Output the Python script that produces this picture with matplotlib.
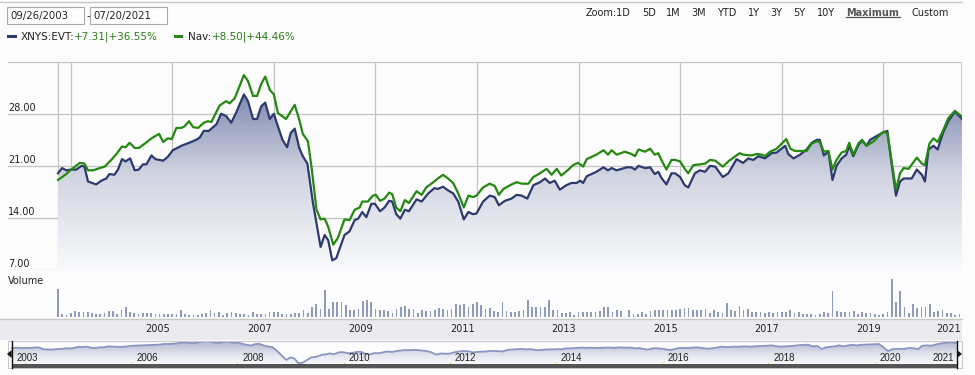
import numpy as np
import matplotlib
matplotlib.use('Agg')
import matplotlib.pyplot as plt
from matplotlib.colors import LinearSegmentedColormap
from matplotlib.patches import Rectangle, Polygon
from matplotlib.lines import Line2D
import matplotlib.transforms as mtransforms

# ---------------- data ----------------
evt_t = [2003.75, 2003.83, 2003.91, 2004.01, 2004.11, 2004.21, 2004.27, 2004.34, 2004.50, 2004.60,
         2004.70, 2004.76, 2004.86, 2004.93, 2005.01, 2005.08, 2005.17, 2005.26, 2005.34, 2005.42,
         2005.49, 2005.59, 2005.67, 2005.82, 2005.91, 2006.01, 2006.18, 2006.33, 2006.47, 2006.54,
         2006.62, 2006.72, 2006.87, 2006.96, 2007.06, 2007.16, 2007.26, 2007.41, 2007.49, 2007.59,
         2007.67, 2007.75, 2007.83, 2007.92, 2008.00, 2008.08, 2008.17, 2008.26, 2008.33, 2008.41,
         2008.50, 2008.57, 2008.66, 2008.77, 2008.92, 2009.00, 2009.07, 2009.15, 2009.23, 2009.39,
         2009.49, 2009.59, 2009.66, 2009.74, 2009.82, 2009.92, 2009.99, 2010.09, 2010.18, 2010.27,
         2010.33, 2010.41, 2010.49, 2010.58, 2010.66, 2010.81, 2010.91, 2011.04, 2011.16, 2011.23,
         2011.33, 2011.43, 2011.53, 2011.63, 2011.74, 2011.83, 2011.92, 2011.99, 2012.12, 2012.25,
         2012.35, 2012.43, 2012.55, 2012.68, 2012.78, 2012.88, 2012.99, 2013.11, 2013.24, 2013.34,
         2013.43, 2013.53, 2013.63, 2013.76, 2013.86, 2013.96, 2014.03, 2014.09, 2014.16, 2014.35,
         2014.49, 2014.58, 2014.65, 2014.75, 2014.85, 2014.95, 2015.04, 2015.11, 2015.18, 2015.31,
         2015.41, 2015.50, 2015.57, 2015.63, 2015.73, 2015.83, 2015.90, 2016.00, 2016.09, 2016.16,
         2016.29, 2016.39, 2016.49, 2016.59, 2016.69, 2016.84, 2016.95, 2017.11, 2017.24, 2017.34,
         2017.44, 2017.54, 2017.67, 2017.80, 2017.90, 2018.07, 2018.13, 2018.23, 2018.36, 2018.49,
         2018.59, 2018.69, 2018.75, 2018.83, 2018.92, 2019.00, 2019.08, 2019.18, 2019.27, 2019.33,
         2019.41, 2019.51, 2019.58, 2019.67, 2019.74, 2019.87, 2019.97, 2020.08, 2020.15, 2020.25,
         2020.33, 2020.40, 2020.46, 2020.56, 2020.66, 2020.76, 2020.82, 2020.89, 2020.99, 2021.07,
         2021.18, 2021.28, 2021.41, 2021.55]
evt_v = [20.0, 20.7, 20.4, 20.5, 20.5, 21.0, 20.9, 18.9, 18.5, 19.0,
         19.3, 19.9, 19.8, 20.5, 21.9, 21.6, 22.0, 20.4, 20.5, 21.2,
         21.2, 22.4, 21.9, 21.7, 22.2, 23.1, 23.7, 24.1, 24.5, 24.8,
         25.7, 25.7, 26.6, 28.0, 27.7, 26.8, 28.2, 30.6, 29.7, 27.3,
         27.3, 29.0, 29.5, 27.3, 28.0, 26.3, 24.5, 23.5, 25.4, 26.0,
         23.4, 22.3, 21.3, 16.0, 10.1, 11.7, 11.0, 8.3, 8.6, 11.7,
         12.2, 13.7, 13.9, 14.8, 14.1, 15.9, 15.9, 14.9, 15.4, 16.3,
         16.2, 14.5, 13.9, 15.1, 14.9, 16.5, 16.2, 17.3, 18.0, 17.9,
         18.2, 17.7, 17.3, 16.2, 13.8, 14.8, 14.5, 14.6, 16.2, 17.0,
         16.8, 15.7, 16.3, 16.6, 17.1, 17.0, 16.6, 18.4, 18.8, 19.3,
         18.7, 19.0, 17.8, 18.4, 18.7, 18.7, 19.0, 18.7, 19.6, 20.2,
         20.8, 20.4, 20.7, 20.4, 20.6, 20.8, 20.8, 20.5, 21.0, 20.7,
         20.8, 19.9, 20.2, 19.4, 18.5, 20.0, 20.0, 19.5, 18.4, 18.1,
         20.0, 20.4, 20.2, 21.0, 20.9, 19.5, 20.0, 21.9, 21.4, 22.0,
         21.8, 22.3, 22.0, 22.7, 22.8, 23.7, 22.6, 22.0, 22.5, 23.2,
         24.1, 24.5, 24.5, 22.4, 22.9, 19.1, 21.0, 22.0, 22.5, 23.7,
         22.3, 23.8, 24.4, 23.7, 24.5, 25.0, 25.4, 25.7, 22.0, 17.0,
         18.9, 19.3, 19.3, 19.3, 20.5, 19.8, 18.9, 23.2, 23.7, 23.2,
         25.5, 27.0, 28.3, 27.3]

nav_t = [2003.75, 2003.91, 2004.01, 2004.18, 2004.27, 2004.34, 2004.44, 2004.57, 2004.67, 2004.80,
         2004.90, 2005.01, 2005.08, 2005.16, 2005.26, 2005.34, 2005.46, 2005.59, 2005.74, 2005.82,
         2005.91, 2005.99, 2006.08, 2006.18, 2006.24, 2006.33, 2006.41, 2006.51, 2006.62, 2006.70,
         2006.77, 2006.93, 2007.06, 2007.13, 2007.23, 2007.41, 2007.49, 2007.59, 2007.67, 2007.75,
         2007.83, 2007.92, 2008.00, 2008.08, 2008.24, 2008.41, 2008.50, 2008.57, 2008.67, 2008.74,
         2008.84, 2008.92, 2009.00, 2009.07, 2009.17, 2009.26, 2009.39, 2009.49, 2009.59, 2009.69,
         2009.74, 2009.85, 2009.95, 2010.01, 2010.09, 2010.18, 2010.27, 2010.33, 2010.41, 2010.49,
         2010.58, 2010.66, 2010.81, 2010.91, 2011.00, 2011.14, 2011.23, 2011.33, 2011.43, 2011.53,
         2011.63, 2011.74, 2011.83, 2011.92, 2011.99, 2012.12, 2012.25, 2012.35, 2012.43, 2012.52,
         2012.68, 2012.78, 2012.88, 2013.01, 2013.11, 2013.24, 2013.37, 2013.47, 2013.57, 2013.66,
         2013.80, 2013.89, 2013.99, 2014.09, 2014.16, 2014.35, 2014.49, 2014.58, 2014.65, 2014.75,
         2014.91, 2015.04, 2015.11, 2015.18, 2015.31, 2015.41, 2015.50, 2015.57, 2015.63, 2015.73,
         2015.83, 2015.90, 2016.00, 2016.09, 2016.16, 2016.26, 2016.39, 2016.49, 2016.59, 2016.69,
         2016.84, 2016.95, 2017.05, 2017.17, 2017.24, 2017.41, 2017.51, 2017.61, 2017.67, 2017.77,
         2017.90, 2018.09, 2018.17, 2018.26, 2018.36, 2018.49, 2018.59, 2018.69, 2018.75, 2018.83,
         2018.92, 2019.00, 2019.08, 2019.18, 2019.27, 2019.33, 2019.41, 2019.51, 2019.58, 2019.67,
         2019.81, 2019.91, 2020.01, 2020.08, 2020.15, 2020.25, 2020.33, 2020.40, 2020.50, 2020.66,
         2020.76, 2020.82, 2020.91, 2020.99, 2021.07, 2021.18, 2021.28, 2021.41, 2021.55]
nav_v = [19.1, 19.9, 20.5, 21.4, 21.3, 20.4, 20.4, 20.7, 20.9, 21.8,
         22.6, 23.6, 23.5, 24.1, 23.4, 23.4, 24.0, 24.7, 25.3, 24.2,
         24.7, 24.6, 26.1, 26.1, 26.3, 27.0, 26.2, 26.1, 26.8, 27.0,
         26.9, 29.1, 29.7, 29.4, 30.1, 33.2, 32.4, 30.4, 30.4, 32.0,
         33.0, 31.2, 30.6, 28.1, 27.3, 29.2, 27.2, 25.3, 24.3, 20.9,
         15.1, 13.8, 13.9, 12.8, 10.4, 11.3, 13.8, 13.7, 15.1, 15.4,
         16.2, 16.2, 17.0, 17.1, 16.3, 16.6, 17.4, 17.2, 15.4, 14.9,
         16.4, 16.0, 17.6, 17.1, 18.1, 18.8, 19.3, 19.8, 19.3, 18.7,
         17.3, 15.4, 17.0, 16.8, 17.0, 18.1, 18.6, 18.3, 17.1, 17.9,
         18.5, 18.8, 18.6, 18.6, 19.5, 20.0, 20.6, 19.8, 20.6, 19.7,
         20.5, 21.1, 21.4, 20.9, 21.9, 22.5, 23.1, 22.5, 23.1, 22.5,
         22.9, 22.6, 22.3, 23.2, 22.9, 23.3, 22.5, 22.7, 21.8, 20.5,
         21.8, 21.8, 21.6, 20.6, 20.0, 21.1, 21.2, 21.3, 21.8, 21.7,
         20.9, 21.6, 22.1, 22.7, 22.5, 22.4, 22.6, 22.5, 22.3, 22.9,
         23.3, 24.6, 23.3, 23.0, 23.0, 23.0, 24.0, 24.3, 24.2, 22.9,
         23.0, 20.5, 21.8, 22.8, 23.0, 24.1, 22.5, 24.0, 24.5, 23.7,
         24.3, 25.0, 25.6, 25.4, 22.3, 17.8, 20.0, 20.7, 20.6, 22.1,
         21.3, 21.1, 24.0, 24.7, 24.2, 25.8, 27.4, 28.4, 27.6]

# monthly volume (relative units), first bar Oct 2003
volume = [85, 8, 5, 12, 18, 15, 15, 15, 12, 8, 10, 12, 18, 18, 8, 20, 30, 15, 12, 10,
          12, 12, 12, 10, 10, 8, 10, 8, 8, 22, 8, 5, 5, 5, 8, 12, 22, 12, 15, 5,
          12, 15, 12, 8, 10, 5, 15, 10, 8, 10, 15, 15, 15, 8, 10, 10, 12, 12, 20, 12,
          30, 38, 25, 80, 25, 45, 45, 45, 35, 20, 20, 25, 48, 52, 45, 25, 22, 20, 18, 12,
          25, 30, 32, 25, 25, 12, 20, 18, 18, 20, 28, 25, 20, 25, 38, 35, 38, 30, 38, 45,
          35, 25, 28,
          18, 15, 45, 18, 15, 15, 18, 22, 50, 30, 30, 30, 30, 52, 22, 22, 12, 12, 15, 5,
          15, 15, 15, 15, 15, 18, 30, 30, 15, 20, 18, 0, 22, 8, 10, 15, 10, 18, 22, 22,
          22, 20, 22, 20, 25, 28, 28, 20, 20, 22, 25, 12, 20, 15, 12, 42, 22, 18, 32, 20,
          25, 15, 15, 15, 12, 15, 12, 15, 15, 15, 20, 12, 15, 10, 8, 8, 5, 10, 15, 12,
          78, 18, 15, 15, 15, 18, 10, 15, 12, 12, 10, 5, 10, 15, 115, 45, 78, 30, 12, 40,
          28, 30, 30, 38, 15, 18, 20, 12, 12, 5, 8]
vol_t = evt_t[0] + np.arange(len(volume)) / 12.0

y_ticks = [7, 14, 21, 28]
grid_years = [2004, 2006, 2008, 2010, 2012, 2014, 2016, 2018, 2020]
axis_labels = ['2005', '2007', '2009', '2011', '2013', '2015', '2017', '2019']
nav_labels = ['2006', '2008', '2010', '2012', '2014', '2016', '2018', '2020']

start_txt, end_txt = '09/26/2003', '07/20/2021'
evt_name, evt_chg = 'XNYS:EVT:', '+7.31|+36.55%'
nav_name, nav_chg = 'Nav:', '+8.50|+44.46%'
zoom_items = [('Zoom:1D', 586), ('5D', 641.7), ('1M', 665.7), ('3M', 691.7), ('YTD', 716.7),
              ('1Y', 747.7), ('3Y', 770.7), ('5Y', 793), ('10Y', 816.7)]

# ---------------- figure ----------------
W, H = 975, 375
fig = plt.figure(figsize=(W / 100, H / 100), dpi=100)
fig.patch.set_facecolor('#fcfcfc')
plt.rcParams['font.family'] = ['DejaVu Sans']

def fx(x):
    return x / W

def fy(y):
    return 1 - y / H

def add_ax_px(x0, y0, x1, y1, **kw):
    a = fig.add_axes([x0 / W, 1 - y1 / H, (x1 - x0) / W, (y1 - y0) / H], **kw)
    a.set_facecolor('none')
    for s in a.spines.values():
        s.set_visible(False)
    a.set_xticks([])
    a.set_yticks([])
    return a

GRID = '#c4c4c4'
NAVY = '#2c3a6e'
GREEN = '#23890f'
TXT = '#222222'

# ---- main axes ----
ax = add_ax_px(8, 61.7, 962, 270)
px_per_year = 50.75
xl = (evt_t[0] - 50 / px_per_year, evt_t[-1])
ax.set_xlim(*xl)
ax.set_ylim(7, 35)

for v in y_ticks + [35]:
    ax.axhline(v, color=GRID, lw=0.9, zorder=1)
for g in grid_years + [evt_t[0]]:
    ax.axvline(g, color=GRID, lw=0.9, zorder=1)
ax.axvline(xl[1], color=GRID, lw=1.2, zorder=1)

trans_lab = mtransforms.offset_copy(
    mtransforms.blended_transform_factory(ax.transAxes, ax.transData), fig=fig, x=0, y=3, units='dots')
for v in y_ticks:
    ax.text(0.0, v, f'{v:.2f}', transform=trans_lab, fontsize=7, color=TXT, va='baseline', ha='left')

# gradient fill under EVT
cmap = LinearSegmentedColormap.from_list('fill', [(0.0, '#f9fafc'), (0.45, '#d2d5e2'),
                                                   (0.8, '#8a93b6'), (1.0, '#646f9d')])
grad = np.linspace(0, 1, 256).reshape(-1, 1)
im = ax.imshow(grad, extent=[evt_t[0], evt_t[-1], 7, 35], origin='lower', aspect='auto',
               cmap=cmap, zorder=2, interpolation='bilinear')
verts = [(evt_t[0], 7)] + list(zip(evt_t, evt_v)) + [(evt_t[-1], 7)]
clip = Polygon(verts, closed=True, facecolor='none', edgecolor='none', transform=ax.transData)
ax.add_patch(clip)
im.set_clip_path(clip)
ax.set_xlim(*xl)
ax.set_ylim(7, 35)

ax.plot(evt_t, evt_v, color=NAVY, lw=1.6, zorder=4, solid_joinstyle='round')
ax.plot(nav_t, nav_v, color=GREEN, lw=1.6, zorder=5, solid_joinstyle='round')

# ---- volume ----
axv = add_ax_px(8, 278, 962, 317)
axv.set_xlim(*xl)
axv.set_ylim(0, 117)
axv.bar(vol_t, volume, width=0.034, color='#8f9bbd', align='center')
fig.text(fx(8), fy(280.5), 'Volume', fontsize=7, color=TXT, va='center', ha='left')

# ---- x axis band ----
fig.patches.append(Rectangle((0, fy(340)), fx(962), (340 - 319) / H, transform=fig.transFigure,
                             facecolor='#ebebef', edgecolor='none', zorder=0))
fig.lines.append(Line2D([0, fx(962)], [fy(319), fy(319)], transform=fig.transFigure,
                        color='#c8c8c8', lw=1))
band_tr = mtransforms.blended_transform_factory(ax.transData, fig.transFigure)
for lab in axis_labels:
    fig.text(int(lab) + 0.71, fy(329), lab, transform=band_tr, fontsize=7, color=TXT,
             ha='center', va='center')
fig.text(fx(961), fy(329), '2021', fontsize=7, color=TXT, ha='right', va='center')

# ---- navigator ----
axn = add_ax_px(8, 340.5, 962, 364)
nav_ppy = (957 - 11.7) / (evt_t[-1] - evt_t[0])
nxl = (evt_t[0] - 3.7 / nav_ppy, evt_t[-1] + 5 / nav_ppy)
axn.set_xlim(*nxl)
axn.set_yscale('log')
axn.set_ylim(7.97, 31.5)
axn.set_xticks([]); axn.set_yticks([]); axn.minorticks_off()
axn.yaxis.set_minor_locator(matplotlib.ticker.NullLocator())
ncmap = LinearSegmentedColormap.from_list('nfill', ['#f6f7fa', '#c9cedf', '#aab2cf'])
nim = axn.imshow(grad, extent=[evt_t[0], evt_t[-1], 7.97, 31.5], origin='lower', aspect='auto',
                 cmap=ncmap, zorder=2, interpolation='bilinear')
nverts = [(evt_t[0], 7.97)] + list(zip(evt_t, evt_v)) + [(evt_t[-1], 7.97)]
nclip = Polygon(nverts, closed=True, facecolor='none', edgecolor='none', transform=axn.transData)
axn.add_patch(nclip)
nim.set_clip_path(nclip)
axn.set_xlim(*nxl)
axn.set_ylim(7.97, 31.5)
axn.plot(evt_t, evt_v, color='#8a96bf', lw=1.3, zorder=3)
for g in grid_years:
    axn.plot([g, g], [8.0, 8.6], color='#c8d860', lw=1, zorder=4)

fig.patches.append(Rectangle((fx(7.5), fy(367.5)), (962 - 7.5) / W, (367.5 - 340.5) / H,
                             transform=fig.transFigure, facecolor='none', edgecolor='#c8c8c8',
                             lw=0.8, zorder=1))
fig.patches.append(Rectangle((fx(11.7), fy(367.5)), (957 - 11.7) / W, 3.5 / H,
                             transform=fig.transFigure, facecolor='#555555', edgecolor='none',
                             zorder=5))
for xh in (11.7, 957):
    fig.lines.append(Line2D([fx(xh), fx(xh)], [fy(341), fy(367.5)], transform=fig.transFigure,
                            color='#111111', lw=1.0, zorder=6))
fig.patches.append(Polygon([(fx(7), fy(354)), (fx(11.7), fy(350)), (fx(11.7), fy(358))], closed=True,
                           transform=fig.transFigure, facecolor='#111111', edgecolor='none', zorder=6))
fig.patches.append(Polygon([(fx(962), fy(354)), (fx(957), fy(350)), (fx(957), fy(358))], closed=True,
                           transform=fig.transFigure, facecolor='#111111', edgecolor='none', zorder=6))

nav_tr = mtransforms.offset_copy(mtransforms.blended_transform_factory(axn.transData, fig.transFigure),
                                 fig=fig, x=5, y=0, units='dots')
NAVFONT = dict(fontsize=7, family='Liberation Sans', color=TXT, va='center', ha='left')
fig.text(evt_t[0], fy(358), '2003', transform=nav_tr, **NAVFONT)
for lab in nav_labels:
    fig.text(int(lab), fy(358), lab, transform=nav_tr, **NAVFONT)
fig.text(2021, fy(358), '2021', transform=nav_tr, **NAVFONT)

# ---- header ----
fig.lines.append(Line2D([0, fx(962)], [fy(1.5), fy(1.5)], transform=fig.transFigure,
                        color='#c8c8c8', lw=1))
for (x0, x1) in [(6.7, 84.3), (90, 166.7)]:
    fig.patches.append(Rectangle((fx(x0), fy(24)), (x1 - x0) / W, (24 - 7.3) / H,
                                 transform=fig.transFigure, facecolor='white',
                                 edgecolor='#aaaaaa', lw=0.8))
fig.text(fx(10), fy(15.7), start_txt, fontsize=7.3, color=TXT, va='center')
fig.text(fx(86.3), fy(15.7), '-', fontsize=7.3, color=TXT, va='center')
fig.text(fx(93), fy(15.7), end_txt, fontsize=7.3, color=TXT, va='center')

for lab, x in zoom_items:
    fig.text(fx(x), fy(12.7), lab, fontsize=7, color=TXT, va='center')
fig.text(fx(846), fy(12.7), 'Maximum', fontsize=7, color='#555555', fontweight='bold', va='center')
fig.lines.append(Line2D([fx(846), fx(900)], [fy(16.8), fy(16.8)], transform=fig.transFigure,
                        color='#555555', lw=0.9))
fig.text(fx(911), fy(12.7), 'Custom', fontsize=7, color=TXT, va='center')

# legend: chained texts
LEG_GREEN = '#2b7d17'
renderer = fig.canvas.get_renderer()

def chain(x_px, parts):
    x = x_px
    for s, c in parts:
        t = fig.text(fx(x), fy(36.7), s, fontsize=7.5, color=c, va='center', ha='left')
        bb = t.get_window_extent(renderer=renderer)
        x += bb.width
    return x

fig.patches.append(Rectangle((fx(7.3), fy(38.2)), 9.4 / W, 2.8 / H, transform=fig.transFigure,
                             facecolor=NAVY, edgecolor='none'))
chain(20.7, [(evt_name, TXT), (evt_chg, LEG_GREEN)])
fig.patches.append(Rectangle((fx(174), fy(38.2)), 9.3 / W, 2.8 / H, transform=fig.transFigure,
                             facecolor=GREEN, edgecolor='none'))
chain(188.3, [(nav_name, TXT), (nav_chg, LEG_GREEN)])

fig.savefig('out.png', dpi=100, facecolor=fig.get_facecolor())
